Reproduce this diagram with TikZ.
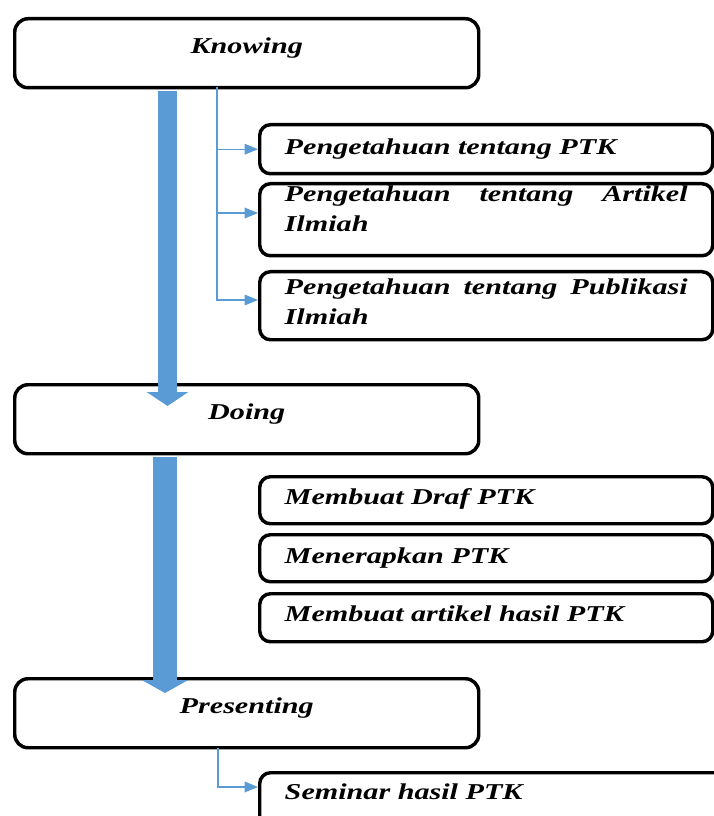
\documentclass[tikz,border=0pt]{standalone}
\usepackage{fontspec}
\setmainfont{Liberation Serif}
\newfontfamily\boxfont[FakeStretch=1.33]{Liberation Serif}
\usetikzlibrary{arrows.meta,calc}
\definecolor{arrowblue}{HTML}{5B9BD5}
\tolerance=10000 \hyphenpenalty=10000
\begin{document}
\begin{tikzpicture}[x=0.75pt,y=-0.75pt,
  font=\boxfont\bfseries\itshape\fontsize{17}{22.5}\selectfont,
  stage/.style={draw,line width=2.6pt,rounded corners=10pt,fill=white,anchor=north west,
    inner sep=0pt,minimum width=348pt,text height=26.25pt,text depth=25.5pt},
  item/.style={draw,line width=2.6pt,rounded corners=8pt,fill=white,anchor=north west,
    inner xsep=18.75pt,inner ysep=0pt,text width=302.25pt,align=justify},
  link/.style={arrowblue,line width=0.9pt,-{Triangle[length=10pt,width=8pt]}},
  flow/.style={arrowblue,-{Triangle[length=10.5pt,width=30.75pt]}}]
\useasboundingbox (0,0) rectangle (713,816);
\node[stage] (know) at (13,17) {Knowing};
\node[stage] (doing) at (13,383) {Doing};
\node[stage] (pres) at (13,677) {Presenting};
\node[item,text height=22.5pt,text depth=14.25pt] (k1) at (258,123) {Pengetahuan tentang PTK};
\node[item,text height=13.5pt,text depth=40.5pt] (k2) at (258,182) {Pengetahuan tentang Artikel Ilmiah};
\node[item,text height=17.25pt,text depth=33.75pt] (k3) at (258,270) {Pengetahuan tentang Publikasi Ilmiah};
\node[item,text height=21pt,text depth=14.25pt] (d1) at (258,475) {Membuat Draf PTK};
\node[item,text height=21.75pt,text depth=13.5pt] (d2) at (258,533) {Menerapkan PTK};
\node[item,text height=21pt,text depth=15pt] (d3) at (258,592) {Membuat artikel hasil PTK};
\node[item,text height=20.25pt,text depth=27.75pt,text width=315pt] (sem) at (258,771) {Seminar hasil PTK};
\coordinate (ktrunk) at (217,87);
\coordinate (ptrunk) at (218,748);
\draw[link] (ktrunk) |- (k1.west);
\draw[link] (ktrunk) |- ($(k2.north west)+(0,31)$);
\draw[link] (ktrunk) |- ($(k3.north west)+(0,30)$);
\draw[link] (ptrunk) |- ($(sem.north west)+(0,16)$);
\coordinate (tip1) at (167.5,406);
\coordinate (tip2) at (165,693);
\draw[flow,line width=14.25pt] ($(know.south -| tip1)+(0,2)$) -- (tip1);
\draw[flow,line width=18pt,-{Triangle[length=9.75pt,width=34.5pt]}] ($(doing.south -| tip2)+(0,2)$) -- (tip2);
\end{tikzpicture}
\end{document}
